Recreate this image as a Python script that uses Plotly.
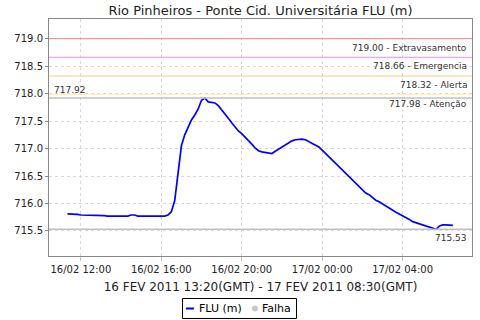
import pandas as pd
import plotly.graph_objects as go

# ---- data ----
start_time = "2011-02-16 11:20"
end_time = "2011-02-17 06:30"
flu_values = [
    715.81, 715.81, 715.81, 715.80, 715.79, 715.79, 715.79, 715.79, 715.79, 715.79,
    715.79, 715.78, 715.77, 715.77, 715.77, 715.77, 715.77, 715.77, 715.77, 715.79,
    715.79, 715.77, 715.77, 715.77, 715.77, 715.77, 715.77, 715.77, 715.77, 715.77,
    715.79, 715.85, 716.05, 716.60, 717.05, 717.25, 717.40, 717.52, 717.61, 717.72,
    717.88, 717.92, 717.85, 717.84, 717.83, 717.78, 717.71, 717.63, 717.55, 717.47,
    717.39, 717.32, 717.27, 717.21, 717.14, 717.08, 717.01, 716.96, 716.94, 716.93,
    716.92, 716.91, 716.95, 716.99, 717.02, 717.06, 717.10, 717.14, 717.16, 717.17,
    717.17, 717.16, 717.13, 717.10, 717.07, 717.03, 716.97, 716.91, 716.86, 716.80,
    716.74, 716.68, 716.62, 716.56, 716.50, 716.44, 716.37, 716.31, 716.26, 716.19,
    716.16, 716.11, 716.06, 716.03, 715.99, 715.95, 715.92, 715.88, 715.84, 715.81,
    715.78, 715.75, 715.71, 715.67, 715.65, 715.64, 715.62, 715.60, 715.58, 715.56,
    715.53, 715.59, 715.61, 715.61, 715.61, 715.60,
]
times = pd.date_range(start_time, end_time, freq="10min")
times = times[:len(flu_values)]

threshold_values = [719.00, 718.66, 718.32, 717.98]
threshold_names = ["Extravasamento", "Emergencia", "Alerta", "Atenção"]
threshold_colors = ["#ee8a8a", "#ff88ff", "#ffc880", "#fff0a8"]
max_value = 717.92
min_value = 715.53

title_text = "Rio Pinheiros - Ponte Cid. Universitária FLU (m)"
xaxis_title = "16 FEV 2011 13:20(GMT) - 17 FEV 2011 08:30(GMT)"
y_ticks = [715.5, 716.0, 716.5, 717.0, 717.5, 718.0, 718.5, 719.0]
legend_names = ["FLU (m)", "Falha"]

FONT = "DejaVu Sans"
W, H = 480, 320
ML, MR, MT, MB = 49, 8, 19, 64
PW, PH = W - ML - MR, H - MT - MB


def px(x):
    return (x - ML) / PW


def py(y):
    return (H - MB - y) / PH


fig = go.Figure()
fig.add_trace(go.Scatter(
    x=times, y=flu_values, mode="lines", name=legend_names[0],
    line=dict(color="#0000ff", width=1.7), showlegend=False,
))

shapes = []
annotations = []
for v, n, c in zip(threshold_values, threshold_names, threshold_colors):
    shapes.append(dict(type="line", xref="paper", x0=0, x1=1, yref="y", y0=v, y1=v,
                       line=dict(color=c, width=1)))
    annotations.append(dict(xref="paper", x=0.993, yref="y", y=v, yshift=-2,
                            text=f"{v:.2f} - {n}", showarrow=False,
                            xanchor="right", yanchor="top",
                            font=dict(family=FONT, size=9, color="#333333")))
for v in (max_value, min_value):
    shapes.append(dict(type="line", xref="paper", x0=0, x1=1, yref="y", y0=v, y1=v,
                       line=dict(color="#c0c0c0", width=1.5)))
annotations.append(dict(xref="paper", x=0.006, yref="y", y=max_value, yshift=1,
                        text=f"{max_value:.2f}", showarrow=False,
                        xanchor="left", yanchor="bottom",
                        font=dict(family=FONT, size=9, color="#333333")))
annotations.append(dict(xref="paper", x=0.993, yref="y", y=min_value, yshift=-2,
                        text=f"{min_value:.2f}", showarrow=False,
                        xanchor="right", yanchor="top",
                        font=dict(family=FONT, size=9, color="#333333")))

# manual legend box
shapes.append(dict(type="rect", xref="paper", yref="paper",
                   x0=px(182.5), x1=px(296.5), y0=py(298.5), y1=py(318.5),
                   line=dict(color="#000000", width=1), fillcolor="white"))
shapes.append(dict(type="line", xref="paper", yref="paper",
                   x0=px(186), x1=px(194), y0=py(308.5), y1=py(308.5),
                   line=dict(color="#0000ff", width=2)))
shapes.append(dict(type="circle", xref="paper", yref="paper",
                   x0=px(252), x1=px(258), y0=py(305.5), y1=py(311.5),
                   line=dict(color="#c8c8c8", width=0), fillcolor="#c8c8c8"))
annotations.append(dict(xref="paper", yref="paper", x=px(197), y=py(308.5),
                        text=legend_names[0], showarrow=False,
                        xanchor="left", yanchor="middle",
                        font=dict(family=FONT, size=11, color="#000000")))
annotations.append(dict(xref="paper", yref="paper", x=px(260), y=py(308.5),
                        text=legend_names[1], showarrow=False,
                        xanchor="left", yanchor="middle",
                        font=dict(family=FONT, size=11, color="#000000")))

fig.update_layout(
    width=W, height=H,
    margin=dict(l=ML, r=MR, t=MT, b=MB, autoexpand=False),
    paper_bgcolor="white", plot_bgcolor="white",
    font=dict(family=FONT, color="#222222"),
    title=dict(text=title_text, x=0.5, xref="paper", xanchor="center",
               y=1 - 10 / 320, yanchor="middle", yref="container",
               font=dict(family=FONT, size=13, color="#222222")),
    shapes=shapes,
    annotations=annotations,
    showlegend=False,
)
fig.update_xaxes(
    type="date",
    range=["2011-02-16 10:25", "2011-02-17 07:27"],
    tick0="2011-02-16 12:00", dtick=4 * 3600 * 1000,
    tickformat="%d/%m %H:%M",
    tickfont=dict(family=FONT, size=10, color="#222222"),
    ticks="outside", ticklen=4, tickcolor="#c0c0c0",
    showgrid=True, gridcolor="#d8d8d8", griddash="3px,3px", gridwidth=1,
    showline=True, linecolor="#888888", linewidth=1, mirror=True,
    zeroline=False,
    title=dict(text=xaxis_title, standoff=8,
               font=dict(family=FONT, size=12, color="#222222")),
)
fig.update_yaxes(
    range=[715.044, 719.358],
    tickvals=y_ticks, tickformat=".1f",
    tickfont=dict(family=FONT, size=10, color="#222222"),
    ticks="outside", ticklen=3, tickcolor="#888888",
    showgrid=True, gridcolor="#d8d8d8", griddash="3px,3px", gridwidth=1,
    showline=True, linecolor="#888888", linewidth=1, mirror=True,
    zeroline=False,
)

fig.write_html("out.html")
